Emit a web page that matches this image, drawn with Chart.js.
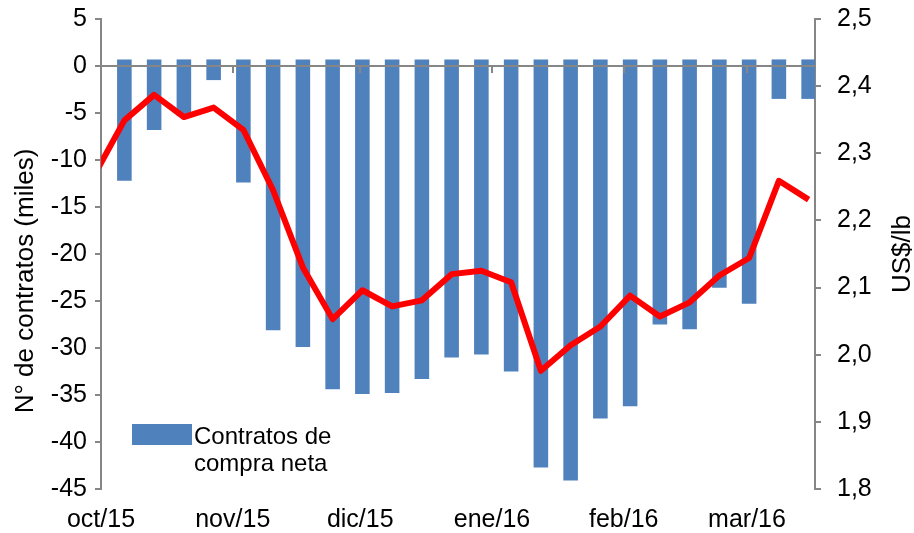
<!DOCTYPE html>
<html><head><meta charset="utf-8">
<script src="https://cdn.jsdelivr.net/npm/chart.js@4.4.1/dist/chart.umd.min.js"></script>
<style>html,body{margin:0;padding:0;background:#fff;}canvas{display:block;}</style>
</head><body>
<canvas id="c" width="914" height="533"></canvas>
<script>
// ---- data ----
const axisStart = '2015-10-01';
const axisEnd = '2016-03-16';
const weeks = ['2015-10-06','2015-10-13','2015-10-20','2015-10-27','2015-11-03','2015-11-10','2015-11-17','2015-11-24',
  '2015-12-01','2015-12-08','2015-12-15','2015-12-22','2015-12-29','2016-01-05','2016-01-12','2016-01-19','2016-01-26',
  '2016-02-02','2016-02-09','2016-02-16','2016-02-23','2016-03-01','2016-03-08','2016-03-15'];
const contratos = [-12.2,-6.8,-5.3,-1.5,-12.4,-28.1,-29.9,-34.4,-34.9,-34.8,-33.3,-31.0,-30.7,-32.5,-42.7,-44.1,-37.5,-36.2,-27.5,-28.0,-23.6,-25.3,-3.5,-3.5];
const precioFechas = ['2015-09-29'].concat(weeks);
const precio = [2.268,2.349,2.387,2.354,2.368,2.335,2.245,2.130,2.053,2.096,2.072,2.081,2.120,2.125,2.108,1.976,2.014,2.042,2.088,2.057,2.078,2.118,2.144,2.259,2.231];
const monthTicks = ['2015-10-01','2015-11-01','2015-12-01','2016-01-01','2016-02-01','2016-03-01'];
const monthLabels = ['oct/15','nov/15','dic/15','ene/16','feb/16','mar/16'];
const leftTitle = 'N° de contratos (miles)';
const rightTitle = 'US$/lb';
const barLabel = ['Contratos de', 'compra neta'];

// ---- helpers / styles ----
const toUTC = s => { const p = s.split('-').map(Number); return Date.UTC(p[0], p[1]-1, p[2]); };
const toDay = s => (toUTC(s) - toUTC(axisStart)) / 864e5;
const DAY_CENTER = 0.5;
const gray = '#868686';
const FAMILY = "'Liberation Sans', Arial, Helvetica, sans-serif";
const tickFont = {family: FAMILY, size: 25};
const fixV = w => s => { s.width = w; s.paddingTop = 0; s.paddingBottom = 0; };

const decor = {
  id: 'decor',
  afterDatasetsDraw(chart) {
    const {ctx, chartArea: a, scales: {x, y}} = chart;
    const y0 = y.getPixelForValue(0);
    ctx.save();
    ctx.strokeStyle = gray; ctx.lineWidth = 2;
    ctx.beginPath();
    ctx.moveTo(a.left - 6, y0); ctx.lineTo(a.right, y0);
    monthTicks.slice(1).forEach(d => {
      const px = Math.round(x.getPixelForValue(toDay(d)));
      ctx.moveTo(px, y0); ctx.lineTo(px, y0 + 7);
    });
    ctx.stroke();
    // legend
    const ds = chart.data.datasets[1];
    const bx = a.left + 31, by = a.top + 405;
    ctx.fillStyle = ds.backgroundColor;
    ctx.fillRect(bx, by, 60, 21);
    ctx.fillStyle = '#000';
    ctx.font = '24px ' + FAMILY;
    ctx.textAlign = 'left'; ctx.textBaseline = 'alphabetic';
    barLabel.forEach((t, i) => ctx.fillText(t, bx + 62, by + 19.5 + i * 27));
    // axis titles
    ctx.font = '26px ' + FAMILY;
    ctx.textAlign = 'center';
    ctx.save(); ctx.translate(a.left - 68, a.top + 262); ctx.rotate(-Math.PI/2); ctx.fillText(leftTitle, 0, 0); ctx.restore();
    ctx.save(); ctx.translate(a.right + 95, (a.top + a.bottom) / 2); ctx.rotate(-Math.PI/2); ctx.fillText(rightTitle, 0, 0); ctx.restore();
    ctx.restore();
  }
};

new Chart(document.getElementById('c'), {
  type: 'bar',
  data: {
    datasets: [
      {type: 'line', label: 'Precio', yAxisID: 'y2', order: 1,
       data: precioFechas.map((d, i) => ({x: toDay(d) + DAY_CENTER, y: precio[i]})),
       borderColor: '#FF0000', borderWidth: 6, pointRadius: 0, tension: 0, clip: 0,
       borderJoinStyle: 'round', borderCapStyle: 'butt'},
      {type: 'bar', label: barLabel.join(' '), yAxisID: 'y', order: 2,
       data: weeks.map((d, i) => ({x: toDay(d) + DAY_CENTER, y: contratos[i]})),
       backgroundColor: '#4F81BD', base: 0.7, barPercentage: 0.49, categoryPercentage: 1, clip: 0}
    ]
  },
  options: {
    responsive: false, animation: false, devicePixelRatio: 1,
    layout: {padding: {top: 19, left: 0, right: 0, bottom: 0}},
    plugins: {legend: {display: false}, tooltip: {enabled: false}},
    scales: {
      x: {type: 'linear', min: 0, max: toDay(axisEnd) + 1, offset: false,
          grid: {display: false, drawTicks: false}, border: {display: false},
          afterBuildTicks: s => { s.ticks = monthTicks.map(d => ({value: toDay(d)})); },
          ticks: {autoSkip: false, maxRotation: 0, minRotation: 0, padding: 16, font: tickFont, color: '#000',
                  callback: (v, i) => monthLabels[i]},
          afterFit: s => { s.height = 44; s.paddingLeft = 0; s.paddingRight = 0; }},
      y: {position: 'left', min: -45, max: 5,
          ticks: {stepSize: 5, font: tickFont, color: '#000', padding: 8},
          grid: {drawOnChartArea: false, tickLength: 6, tickColor: gray, lineWidth: 2},
          border: {color: gray, width: 2},
          afterFit: fixV(101)},
      y2: {position: 'right', min: 1.8, max: 2.5,
          ticks: {stepSize: 0.1, font: tickFont, color: '#000', padding: 16,
                  callback: v => v.toFixed(1).replace('.', ',')},
          grid: {drawOnChartArea: false, tickLength: 6, tickColor: gray, lineWidth: 2},
          border: {color: gray, width: 2},
          afterFit: fixV(99)}
    }
  },
  plugins: [decor]
});
</script>
</body></html>
